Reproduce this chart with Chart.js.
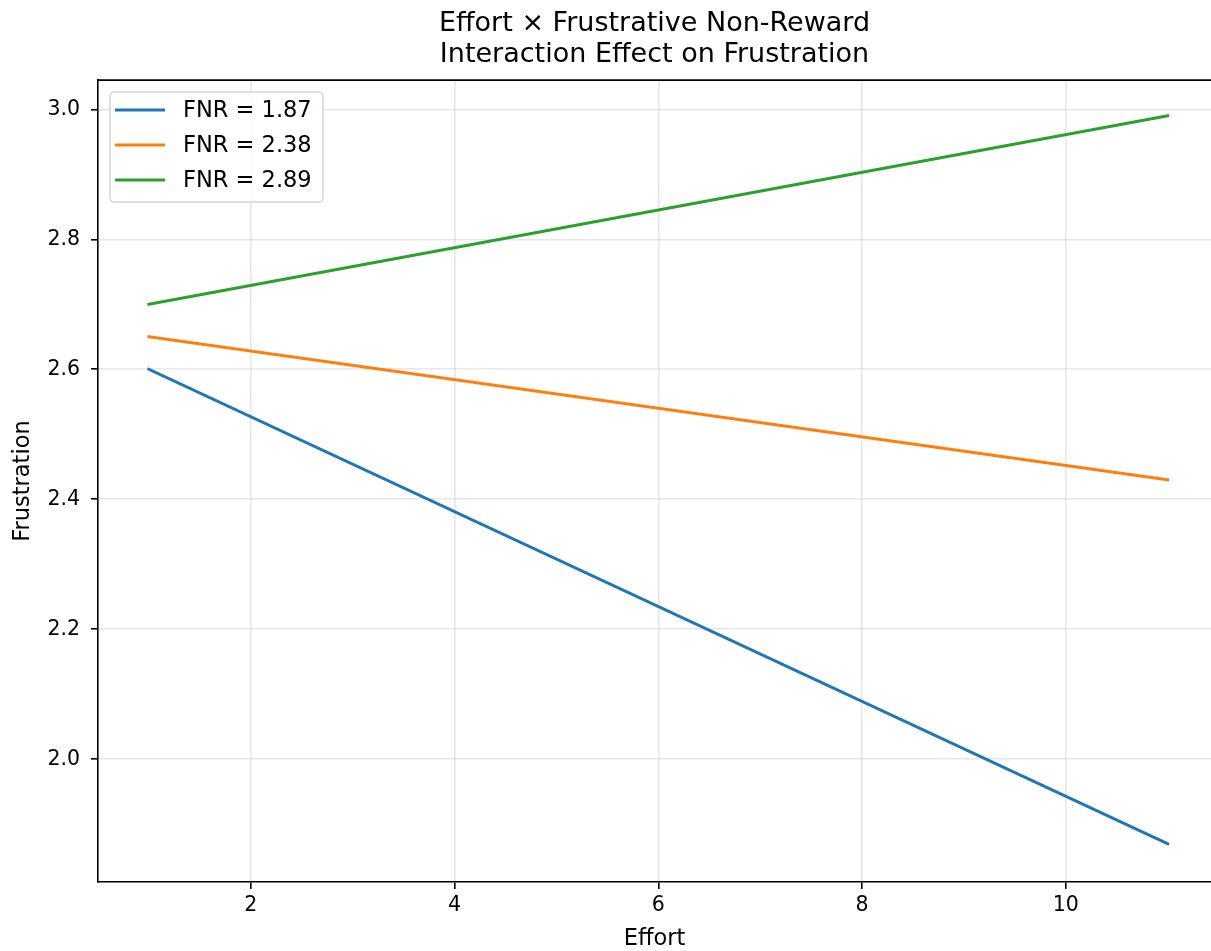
<!DOCTYPE html>
<html lang="en">
<head>
  <meta charset="UTF-8">
  <title>Effort × Frustrative Non-Reward</title>
  <script src="https://cdn.jsdelivr.net/npm/chart.js"></script>
  <style>
    html, body { margin: 0; padding: 0; background: #fff; }
    #wrap { width: 1211px; height: 951px; }
  </style>
</head>
<body>
  <div id="wrap"><canvas id="chart"></canvas></div>

  <script>
    // Effort values at the two ends of each line
    const effort = [1, 11];
    const fnrLabels = ['FNR = 1.87', 'FNR = 2.38', 'FNR = 2.89'];
    const lowFnr = [2.60, 1.87];
    const midFnr = [2.65, 2.43];
    const highFnr = [2.70, 2.99];
    const xTicks = [2, 4, 6, 8, 10];
    const yTicks = [2.0, 2.2, 2.4, 2.6, 2.8, 3.0];
    const lineColors = ['#1f77b4', '#ff7f0e', '#2ca02c'];

    Chart.defaults.font.family = '"DejaVu Sans", sans-serif';
    Chart.defaults.color = '#000';

    function toPoints(ys) {
      return ys.map((y, i) => ({ x: effort[i], y: y }));
    }

    // Legend box drawn in the upper-left corner of the plot, matplotlib style
    const boxLegend = {
      id: 'boxLegend',
      afterDatasetsDraw(chart) {
        const ctx = chart.ctx;
        const area = chart.chartArea;
        const x = area.left + 12, y = area.top + 12, w = 213, h = 110;
        ctx.save();
        ctx.beginPath();
        ctx.roundRect(x, y, w, h, 4);
        ctx.fillStyle = 'rgba(255,255,255,0.8)';
        ctx.fill();
        ctx.strokeStyle = '#d5d5d5';
        ctx.lineWidth = 1.5;
        ctx.stroke();
        ctx.font = '22.5px "DejaVu Sans"';
        ctx.textBaseline = 'middle';
        chart.data.datasets.forEach((ds, i) => {
          const ly = y + 18 + i * 35;
          ctx.strokeStyle = ds.borderColor;
          ctx.lineWidth = 3;
          ctx.beginPath();
          ctx.moveTo(x + 5, ly);
          ctx.lineTo(x + 55, ly);
          ctx.stroke();
          ctx.fillStyle = '#000';
          ctx.fillText(ds.label, x + 73, ly + 1);
        });
        ctx.restore();
      }
    };

    // Top spine (left and bottom come from the scale borders)
    const topSpine = {
      id: 'topSpine',
      afterDraw(chart) {
        const ctx = chart.ctx;
        const area = chart.chartArea;
        ctx.save();
        ctx.strokeStyle = '#000';
        ctx.lineWidth = 1.6;
        ctx.beginPath();
        ctx.moveTo(area.left - 0.8, area.top);
        ctx.lineTo(area.right, area.top);
        ctx.stroke();
        ctx.restore();
      }
    };

    const ctx = document.getElementById('chart').getContext('2d');

    new Chart(ctx, {
      type: 'line',
      data: {
        datasets: [lowFnr, midFnr, highFnr].map((ys, i) => ({
          label: fnrLabels[i],
          data: toPoints(ys),
          borderColor: lineColors[i],
          backgroundColor: lineColors[i],
          borderWidth: 3,
          borderCapStyle: 'square',
          pointRadius: 0,
          fill: false,
          tension: 0
        }))
      },
      options: {
        responsive: true,
        maintainAspectRatio: false,
        animation: false,
        layout: { padding: 0 },
        plugins: {
          legend: { display: false },
          tooltip: { enabled: false },
          title: {
            display: true,
            fullSize: false,
            text: ['Effort × Frustrative Non-Reward', 'Interaction Effect on Frustration'],
            color: '#000',
            font: { size: 27, weight: 'normal', lineHeight: 1.15 },
            padding: { top: 8, bottom: 10 }
          }
        },
        scales: {
          x: {
            type: 'linear',
            min: 0.5,
            max: 11.425,
            afterBuildTicks: s => { s.ticks = xTicks.map(v => ({ value: v })); },
            afterFit: s => { s.height = 69; },
            ticks: {
              font: { size: 20.5 },
              color: '#000',
              padding: 4,
              maxRotation: 0,
              callback: v => String(v)
            },
            grid: {
              color: 'rgba(176,176,176,0.3)',
              lineWidth: 1.6,
              tickColor: '#000',
              tickLength: 7,
              tickWidth: 1.6
            },
            border: { display: true, color: '#000', width: 1.6 },
            title: {
              display: true,
              text: 'Effort',
              font: { size: 22.5, lineHeight: 1 },
              color: '#000',
              padding: { top: 0, bottom: 1 }
            }
          },
          y: {
            type: 'linear',
            min: 1.811,
            max: 3.045,
            afterBuildTicks: s => { s.ticks = yTicks.map(v => ({ value: v })); },
            afterFit: s => { s.width = 98; },
            ticks: {
              font: { size: 20.5 },
              color: '#000',
              padding: 11,
              callback: v => Number(v).toFixed(1)
            },
            grid: {
              color: 'rgba(176,176,176,0.3)',
              lineWidth: 1.6,
              tickColor: '#000',
              tickLength: 7,
              tickWidth: 1.6
            },
            border: { display: true, color: '#000', width: 1.6 },
            title: {
              display: true,
              text: 'Frustration',
              font: { size: 22.5, lineHeight: 1 },
              color: '#000',
              padding: { top: 12, bottom: 0 }
            }
          }
        }
      },
      plugins: [boxLegend, topSpine]
    });
  </script>
</body>
</html>
